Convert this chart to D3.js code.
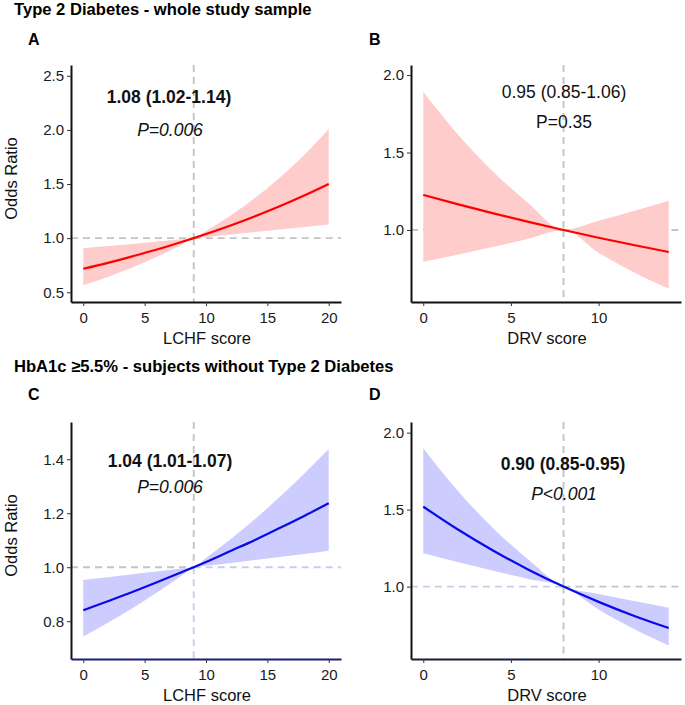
<!DOCTYPE html>
<html>
<head>
<meta charset="utf-8">
<script src="https://cdn.jsdelivr.net/npm/d3@7"></script>
<style>
  html, body { margin: 0; padding: 0; background: #fff; }
  text { font-family: "Liberation Sans", Arial, sans-serif; }
</style>
</head>
<body>
<svg id="chart" width="685" height="705"></svg>
<script>
// ---------------- data ----------------
const lchfX = [0, 2, 4, 6, 8, 9, 10, 12, 14, 16, 18, 20];
const drvX  = [0, 2, 4, 6, 8, 10, 12, 14];

// Type 2 diabetes, LCHF score (ref 9)
const t2dLchfOR = [0.717, 0.772, 0.832, 0.895, 0.964, 1.000, 1.038, 1.117, 1.203, 1.295, 1.394, 1.501];
const t2dLchfLo = [0.565, 0.642, 0.728, 0.827, 0.939, 1.000, 1.011, 1.033, 1.056, 1.079, 1.103, 1.127];
const t2dLchfHi = [0.907, 0.927, 0.947, 0.968, 0.989, 1.000, 1.065, 1.209, 1.373, 1.559, 1.769, 2.008];

// Type 2 diabetes, DRV score (ref 8)
const t2dDrvOR = [1.226, 1.165, 1.107, 1.052, 1.000, 0.950, 0.903, 0.858];
const t2dDrvLo = [0.795, 0.842, 0.892, 0.944, 1.000, 0.853, 0.727, 0.620];
const t2dDrvHi = [1.892, 1.613, 1.375, 1.173, 1.000, 1.059, 1.122, 1.188];

// HbA1c >= 5.5%, LCHF score (ref 9)
const hbaLchfOR = [0.841, 0.874, 0.908, 0.944, 0.981, 1.000, 1.019, 1.060, 1.101, 1.145, 1.190, 1.237];
const hbaLchfLo = [0.743, 0.794, 0.848, 0.906, 0.968, 1.000, 1.005, 1.016, 1.027, 1.038, 1.049, 1.061];
const hbaLchfHi = [0.953, 0.963, 0.974, 0.984, 0.995, 1.000, 1.034, 1.104, 1.179, 1.260, 1.346, 1.438];

// HbA1c >= 5.5%, DRV score (ref 8)
const hbaDrvOR = [1.519, 1.369, 1.233, 1.110, 1.000, 0.901, 0.811, 0.731];
const hbaDrvLo = [1.217, 1.159, 1.103, 1.050, 1.000, 0.852, 0.726, 0.618];
const hbaDrvHi = [1.899, 1.618, 1.378, 1.174, 1.000, 0.952, 0.906, 0.863];

// ticks
const lchfTicks = [0, 5, 10, 15, 20];
const drvTicks  = [0, 5, 10];
const yTicksA = [0.5, 1.0, 1.5, 2.0, 2.5];
const yTicksB = [1.0, 1.5, 2.0];
const yTicksC = [0.8, 1.0, 1.2, 1.4];
const yTicksD = [1.0, 1.5, 2.0];

// texts
const rowTitles = ["Type 2 Diabetes - whole study sample", "HbA1c \u22655.5% - subjects without Type 2 Diabetes"];
const panelLetters = ["A", "B", "C", "D"];
const estimates = ["1.08 (1.02-1.14)", "0.95 (0.85-1.06)", "1.04 (1.01-1.07)", "0.90 (0.85-0.95)"];
const pValues = ["P=0.006", "P=0.35", "P=0.006", "P<0.001"];
const refPoints = [9, 8, 9, 8];

// ---------------- layout ----------------
const svg = d3.select("#chart");
const FONT = "'Liberation Sans', Arial, sans-serif";

const panels = [
  { x: lchfX, or: t2dLchfOR, lo: t2dLchfLo, hi: t2dLchfHi, xt: lchfTicks, yt: yTicksA,
    left: 71, right: 341, top: 65, bottom: 302, xDom: [-1, 21], yDom: [0.41, 2.60],
    line: "#ff0000", fill: "#ffcccc", xlab: "LCHF score", ylab: true,
    estBold: true, estPos: [169, 103], pPos: [170, 136], pItalic: true,
    hLeft: "#c4c4c4", hRight: "#c4c4c4", vTop: "#c4c4c4", vBot: "#c4c4c4", xAxisCol: "#111" },
  { x: drvX, or: t2dDrvOR, lo: t2dDrvLo, hi: t2dDrvHi, xt: drvTicks, yt: yTicksB,
    left: 411, right: 681, top: 65, bottom: 302, xDom: [-0.7, 14.7], yDom: [0.535, 2.065],
    line: "#ff0000", fill: "#ffcccc", xlab: "DRV score", ylab: false,
    estBold: false, estPos: [564, 98], pPos: [564, 128], pItalic: false,
    hLeft: "#c4c4c4", hRight: "#c4c4c4", vTop: "#c4c4c4", vBot: "#c4c4c4", xAxisCol: "#111" },
  { x: lchfX, or: hbaLchfOR, lo: hbaLchfLo, hi: hbaLchfHi, xt: lchfTicks, yt: yTicksC,
    left: 71, right: 341, top: 422, bottom: 659, xDom: [-1, 21], yDom: [0.66, 1.538],
    line: "#0a0ae6", fill: "#ccccff", xlab: "LCHF score", ylab: true,
    estBold: true, estPos: [170, 467], pPos: [170, 493], pItalic: true,
    hLeft: "#c4c4c4", hRight: "#cbcbee", vTop: "#c4c4c4", vBot: "#cbcbee", xAxisCol: "#1c1c7a" },
  { x: drvX, or: hbaDrvOR, lo: hbaDrvLo, hi: hbaDrvHi, xt: drvTicks, yt: yTicksD,
    left: 411, right: 681, top: 422, bottom: 659, xDom: [-0.7, 14.7], yDom: [0.530, 2.069],
    line: "#0a0ae6", fill: "#ccccff", xlab: "DRV score", ylab: false,
    estBold: true, estPos: [563, 470], pPos: [564, 500], pItalic: true,
    hLeft: "#cbcbee", hRight: "#c4c4c4", vTop: "#c4c4c4", vBot: "#c4c4c4", xAxisCol: "#1a1a40" }
];

// row titles
svg.append("text").attr("x", 14).attr("y", 15).text(rowTitles[0])
  .style("font-family", FONT).style("font-size", "16.6px").style("font-weight", "bold").attr("fill", "#000");
svg.append("text").attr("x", 14).attr("y", 372).text(rowTitles[1])
  .style("font-family", FONT).style("font-size", "16.6px").style("font-weight", "bold").attr("fill", "#000");

const letterPos = [[28, 45], [369, 45], [28, 400], [369, 400]];

panels.forEach((p, i) => {
  const g = svg.append("g");
  const x = d3.scaleLinear().domain(p.xDom).range([p.left, p.right]);
  const y = d3.scaleLinear().domain(p.yDom).range([p.bottom, p.top]);
  const ref = refPoints[i];

  // panel letter
  g.append("text").attr("x", letterPos[i][0]).attr("y", letterPos[i][1]).text(panelLetters[i])
    .style("font-family", FONT).style("font-size", "16px").style("font-weight", "bold");

  // reference dashed lines
  const dash = "7,5";
  const dw = 1.9;
  g.append("line").attr("x1", p.left).attr("x2", x(ref)).attr("y1", y(1)).attr("y2", y(1))
    .attr("stroke", p.hLeft).attr("stroke-width", dw).attr("stroke-dasharray", dash);
  g.append("line").attr("x1", x(ref)).attr("x2", p.right).attr("y1", y(1)).attr("y2", y(1))
    .attr("stroke", p.hRight).attr("stroke-width", dw).attr("stroke-dasharray", dash);
  g.append("line").attr("x1", x(ref)).attr("x2", x(ref)).attr("y1", p.top).attr("y2", y(1))
    .attr("stroke", p.vTop).attr("stroke-width", dw).attr("stroke-dasharray", dash);
  g.append("line").attr("x1", x(ref)).attr("x2", x(ref)).attr("y1", y(1)).attr("y2", p.bottom)
    .attr("stroke", p.vBot).attr("stroke-width", dw).attr("stroke-dasharray", dash);

  const pts = p.x.map((v, k) => ({ x: v, or: p.or[k], lo: p.lo[k], hi: p.hi[k] }));

  // band
  g.append("path").datum(pts)
    .attr("d", d3.area().x(d => x(d.x)).y0(d => y(d.lo)).y1(d => y(d.hi)).curve(d3.curveMonotoneX))
    .attr("fill", p.fill).attr("stroke", "none");

  // line
  g.append("path").datum(pts)
    .attr("d", d3.line().x(d => x(d.x)).y(d => y(d.or)).curve(d3.curveMonotoneX))
    .attr("fill", "none").attr("stroke", p.line).attr("stroke-width", 2.2);

  // axes
  const ya = g.append("g").attr("transform", `translate(${p.left},0)`)
    .call(d3.axisLeft(y).tickValues(p.yt).tickFormat(d3.format(".1f")).tickSize(4).tickPadding(3).tickSizeOuter(0));
  const xa = g.append("g").attr("transform", `translate(0,${p.bottom})`)
    .call(d3.axisBottom(x).tickValues(p.xt).tickFormat(d3.format("d")).tickSize(4).tickPadding(6).tickSizeOuter(0));
  [ya, xa].forEach(a => {
    a.selectAll("text").style("font-family", FONT).style("font-size", "15px").attr("fill", "#1a1a1a");
    a.selectAll(".tick line").attr("stroke", "#333").attr("stroke-width", 1);
  });
  ya.select(".domain").attr("stroke", "#111").attr("stroke-width", 2);
  xa.select(".domain").attr("stroke", p.xAxisCol).attr("stroke-width", 2);

  // axis titles
  g.append("text").attr("x", (p.left + p.right) / 2 + 1).attr("y", p.bottom + 42)
    .attr("text-anchor", "middle").text(p.xlab)
    .style("font-family", FONT).style("font-size", "16.5px").attr("fill", "#111");
  if (p.ylab) {
    g.append("text").attr("transform", `translate(17,${(p.top + p.bottom) / 2 - 5}) rotate(-90)`)
      .attr("text-anchor", "middle").text("Odds Ratio")
      .style("font-family", FONT).style("font-size", "16.5px").attr("fill", "#111");
  }

  // annotations
  g.append("text").attr("x", p.estPos[0]).attr("y", p.estPos[1]).attr("text-anchor", "middle")
    .text(estimates[i]).style("font-family", FONT).style("font-size", "17.5px")
    .style("font-weight", p.estBold ? "bold" : "normal").attr("fill", "#111");
  g.append("text").attr("x", p.pPos[0]).attr("y", p.pPos[1]).attr("text-anchor", "middle")
    .text(pValues[i]).style("font-family", FONT).style("font-size", "17.5px")
    .style("font-style", p.pItalic ? "italic" : "normal").attr("fill", "#111");
});
</script>
</body>
</html>
